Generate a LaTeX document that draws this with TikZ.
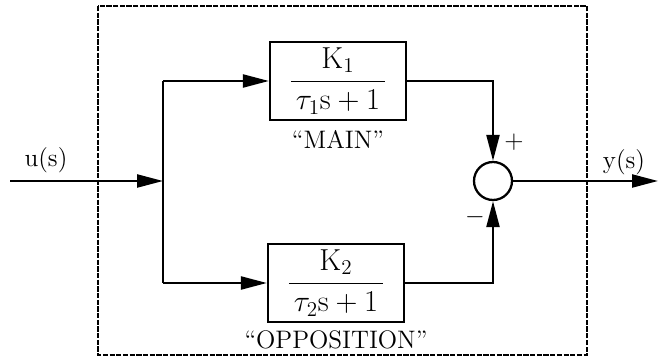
\documentclass[tikz,border=0pt]{standalone}
\usepackage{amsmath}
\usetikzlibrary{positioning, arrows.meta, calc}

\tikzset{
  block/.style={draw, line width=1.3pt, minimum width=2.72cm, minimum height=1.56cm,
                inner sep=0pt, font=\LARGE},
  sumnode/.style={draw, circle, line width=1.3pt, minimum size=0.76cm, inner sep=0pt},
  wire/.style={line width=1.3pt},
  sig/.style={wire, -{Triangle[length=0.52cm, width=0.26cm]}},
  lbl/.style={font=\Large},
}

\begin{document}
\begin{tikzpicture}[x=0.02cm, y=-0.02cm]
    \useasboundingbox (0,0) rectangle (659,364);

    % outer boundary
    \draw[line width=0.9pt, dash pattern=on 3pt off 0.8pt] (98,6) rectangle (587,355);

    % input and split point
    \coordinate (in) at (10,181);
    \coordinate (split) at (163,181);
    \coordinate (splittop) at (163,81);
    \coordinate (splitbot) at (163,283);
    \node[lbl] (u) at (46,160) {u(s)};

    % the two paths
    \node[block] (main) at (338,81) {$\dfrac{\mathrm{K}_1}{\,\tau_1\mathrm{s}+1\,}$};
    \node[lbl] (mainlbl) at (338,139) {``MAIN''};
    \node[block] (oppo) at (336,283) {$\dfrac{\mathrm{K}_2}{\,\tau_2\mathrm{s}+1\,}$};
    \node[lbl] (oppolbl) at (336,340) {``OPPOSITION''};

    % summing junction
    \node[sumnode] (sum) at (493,181) {};
    \node[lbl] (plus) at (514,142) {$+$};
    \node[lbl] (minus) at (475,217) {$-$};

    % output
    \coordinate (out) at (658,181);
    \node[lbl] (y) at (624,162) {y(s)};

    % connections
    \draw[sig] (in) -- (split);
    \draw[wire] (splittop) -- (splitbot);
    \draw[sig] (splittop) -- (main.west);
    \draw[sig] (splitbot) -- (oppo.west);
    \draw[sig] (main.east) -- (main.east -| sum) -- (sum.north);
    \draw[sig] (oppo.east) -- (oppo.east -| sum) -- (sum.south);
    \draw[sig] (sum.east) -- (out);

\end{tikzpicture}
\end{document}
